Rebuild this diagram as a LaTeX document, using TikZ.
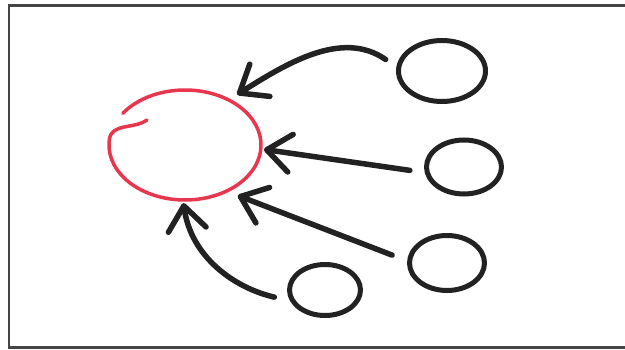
\documentclass[tikz,border=0pt]{standalone}
\usetikzlibrary{arrows.meta, shapes.geometric, calc}
\definecolor{tinte}{HTML}{222222}
\definecolor{rot}{HTML}{E8364F}
\definecolor{rahmen}{HTML}{454545}
\tikzset{
  blase/.style={draw=tinte, ellipse, line width=5pt, inner sep=0pt},
  zentrum/.style={ellipse, inner sep=0pt, minimum width=152pt, minimum height=110pt},
  rotlinie/.style={draw=rot, line width=3.5pt, line cap=round, line join=round},
  zufluss/.style={draw=tinte, line width=5.5pt, line cap=round,
    -{Straight Barb[length=24pt, width=38pt, round]}, shorten >=3pt},
}

\begin{document}
\begin{tikzpicture}[x=1pt, y=1pt]
  \useasboundingbox (0,0) rectangle (625,349);
  \draw[rahmen, line width=2.8pt] (630,343.7) -- (9,343.7) -- (9,1.7) -- (630,1.7);

  \node[zentrum] (hub) at (185,204) {};
  \node[blase, minimum width=87pt, minimum height=61pt] (k1) at (442,278) {};
  \node[blase, minimum width=75pt, minimum height=54pt] (k2) at (464,182) {};
  \node[blase, minimum width=75pt, minimum height=55pt] (k3) at (447,86) {};
  \node[blase, minimum width=71pt, minimum height=51pt] (k4) at (325,59) {};

  % offener roter Kreis
  \draw[rotlinie] ($(hub.center)+(145:76 and 55)$)
    arc[start angle=145, end angle=-186, x radius=76, y radius=55]
    to[out=82, in=215] ($(hub.center)+(-38,25)$);

  \draw[zufluss, shorten <=13pt, shorten >=10pt] (k1.175) to[out=145, in=32] (hub.46);
  \draw[zufluss, shorten <=15pt] (k2.188) -- (hub.-3);
  \draw[zufluss, shorten <=16pt, shorten >=12pt] (k3.177) -- (hub.-48);
  \draw[zufluss, shorten <=16pt] (k4.197) to[out=167, in=-82] (hub.-92);
\end{tikzpicture}
\end{document}
